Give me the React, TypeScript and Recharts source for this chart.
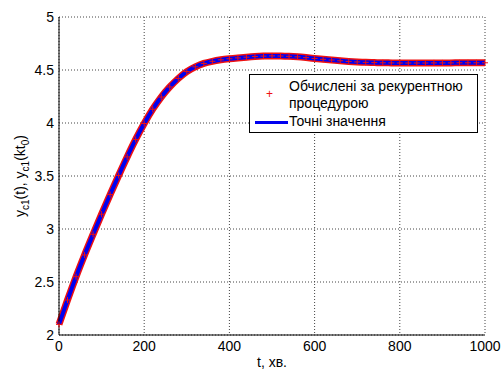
import React from 'react';
import { LineChart, Line, XAxis, YAxis, CartesianGrid } from 'recharts';

// time, minutes
const tValues = [
  0, 20, 40, 60, 80, 100, 120, 140, 160, 180, 200, 220, 240, 260, 280, 300, 320, 340, 360, 380,
  400, 420, 440, 460, 480, 500, 520, 540, 560, 580, 600, 620, 640, 660, 680, 700, 720, 740, 760, 780,
  800, 820, 840, 860, 880, 900, 920, 940, 960, 980, 1000,
];

// y_c1(t) exact values
const exactValues = [
  2.1, 2.33, 2.55, 2.755, 2.95, 3.14, 3.325, 3.505, 3.68, 3.845, 3.995, 4.13, 4.245, 4.34, 4.42, 4.485, 4.53, 4.562, 4.582, 4.596,
  4.606, 4.614, 4.621, 4.627, 4.631, 4.633, 4.632, 4.629, 4.624, 4.617, 4.609, 4.601, 4.594, 4.587, 4.581, 4.576, 4.572, 4.57, 4.568, 4.567,
  4.566, 4.566, 4.566, 4.566, 4.567, 4.567, 4.567, 4.568, 4.568, 4.568, 4.568,
];

// y_c1(kt0) from the recurrent procedure
const recurrentValues = [
  2.1, 2.33, 2.55, 2.755, 2.95, 3.14, 3.325, 3.505, 3.68, 3.845, 3.995, 4.13, 4.245, 4.34, 4.42, 4.485, 4.53, 4.562, 4.582, 4.596,
  4.606, 4.614, 4.621, 4.627, 4.631, 4.633, 4.632, 4.629, 4.624, 4.617, 4.609, 4.601, 4.594, 4.587, 4.581, 4.576, 4.572, 4.57, 4.568, 4.567,
  4.566, 4.566, 4.566, 4.566, 4.567, 4.567, 4.567, 4.568, 4.568, 4.568, 4.568,
];

const xTicks = [0, 200, 400, 600, 800, 1000];
const yTicks = [2, 2.5, 3, 3.5, 4, 4.5, 5];

const data = tValues.map((t, i) => ({ t, exact: exactValues[i], recurrent: recurrentValues[i] }));

const FONT = '"Liberation Sans", Arial, sans-serif';
const RED = '#ee1111';
const BLUE = '#0000f0';

const PlusDot = (props: any) => {
  const { cx, cy } = props;
  if (cx == null || cy == null) return null;
  const s = 3;
  return (
    <path
      d={`M${cx - s},${cy}H${cx + s}M${cx},${cy - s}V${cy + s}`}
      stroke={RED}
      strokeWidth={1}
      fill="none"
    />
  );
};

const App = () => {
  return (
    <div style={{ position: 'absolute', left: 0, top: 0, width: 501, height: 369, background: '#fff', fontFamily: FONT }}>
      <LineChart width={501} height={369} data={data} margin={{ top: 17, right: 16, left: 0, bottom: 0 }}>
        <CartesianGrid stroke="#444" strokeDasharray="1 2" />
        <XAxis
          dataKey="t"
          type="number"
          domain={[0, 1000]}
          ticks={xTicks}
          height={34}
          tickSize={0}
          tickMargin={6}
          tick={{ fill: '#000', fontSize: 14, fontFamily: FONT }}
          axisLine={{ stroke: '#000' }}
        />
        <XAxis
          xAxisId="top"
          orientation="top"
          type="number"
          domain={[0, 1000]}
          height={0}
          tick={false}
          tickLine={false}
          axisLine={{ stroke: '#000' }}
        />
        <YAxis
          type="number"
          domain={[2, 5]}
          ticks={yTicks}
          width={59}
          tickSize={0}
          tickMargin={5}
          tick={{ fill: '#000', fontSize: 14, fontFamily: FONT }}
          axisLine={{ stroke: '#000' }}
        />
        <YAxis
          yAxisId="right"
          orientation="right"
          type="number"
          domain={[2, 5]}
          width={0}
          tick={false}
          tickLine={false}
          axisLine={{ stroke: '#000' }}
        />
        <Line
          dataKey="recurrent"
          type="monotone"
          stroke={RED}
          strokeWidth={7}
          dot={<PlusDot />}
          activeDot={false}
          isAnimationActive={false}
        />
        <Line
          dataKey="exact"
          type="monotone"
          stroke={BLUE}
          strokeWidth={4}
          dot={false}
          activeDot={false}
          isAnimationActive={false}
        />
      </LineChart>

      {/* axis titles */}
      <svg width={501} height={369} style={{ position: 'absolute', left: 0, top: 0, pointerEvents: 'none' }}>
        <text x={272} y={367} textAnchor="middle" fontSize={14} fontFamily={FONT} fill="#000">
          t, хв.
        </text>
        <text transform="translate(25,176) rotate(-90)" textAnchor="middle" fontSize={14} fontFamily={FONT} fill="#000">
          y<tspan dy={4} fontSize={10}>c1</tspan>
          <tspan dy={-4}>(t), y</tspan>
          <tspan dy={4} fontSize={10}>c1</tspan>
          <tspan dy={-4}>(kt</tspan>
          <tspan dy={4} fontSize={10}>0</tspan>
          <tspan dy={-4}>)</tspan>
        </text>
      </svg>

      {/* legend */}
      <div
        style={{
          position: 'absolute',
          left: 249,
          top: 74,
          width: 227,
          height: 57,
          border: '1px solid #000',
          background: '#fff',
          fontSize: 14,
          lineHeight: '17px',
          color: '#000',
        }}
      >
        <span style={{ position: 'absolute', left: 16, top: 11, color: RED, fontSize: 12 }}>+</span>
        <div style={{ position: 'absolute', left: 39, top: 3, whiteSpace: 'nowrap' }}>
          Обчислені за рекурентною
          <br />
          процедурою
        </div>
        <div style={{ position: 'absolute', left: 5, top: 46, width: 33, height: 3, background: BLUE }} />
        <div style={{ position: 'absolute', left: 39, top: 38, whiteSpace: 'nowrap' }}>Точні значення</div>
      </div>
    </div>
  );
};

export default App;
